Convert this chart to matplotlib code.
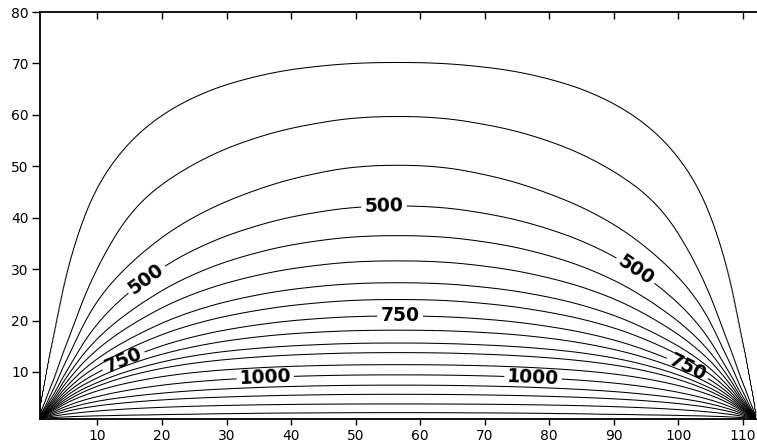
# contour chart: field between the two end points at x=1 and x=112
# heights of the contour lines were read off the reference picture
import numpy as np
import matplotlib.pyplot as plt

plt.rcParams["font.family"] = ["DejaVu Sans"]

# contour levels drawn
levels = [350, 400, 450, 500, 550, 600, 650, 700, 750, 800, 850, 900, 950, 1000, 1050, 1100, 1150, 1200]
labelled = [500, 750, 1000]

# end points of the field and distance from the nearer end where heights were read
x_left, x_right = 1, 112
dist = [0, 1, 2.5, 5, 9, 15, 23, 33, 44, 55.5]

# height (y) of every contour line at those distances
h350 = [1.17, 8.5, 18.0, 32.5, 46.0, 56.0, 63.0, 67.5, 69.8, 70.5]
h400 = [1.16, 4.3, 9.0, 17.5, 30.0, 42.3, 49.8, 55.5, 58.8, 60.4]
h450 = [1.15, 3.3, 7.2, 14.0, 23.8, 32.0, 39.5, 45.2, 49.2, 51.0]
h500 = [1.14, 2.9, 6.0, 11.5, 19.3, 26.5, 33.2, 38.3, 41.5, 42.9]
h550 = [1.13, 2.6, 5.3, 10.2, 16.4, 22.5, 28.5, 33.1, 35.9, 37.0]
h600 = [1.12, 2.4, 4.8, 9.1, 14.3, 19.6, 24.8, 28.7, 31.1, 32.0]
h650 = [1.11, 2.25, 4.4, 8.1, 12.5, 17.0, 21.5, 24.9, 26.9, 27.7]
h700 = [1.10, 2.1, 4.0, 7.3, 11.1, 15.1, 19.0, 21.9, 23.7, 24.4]
h750 = [1.09, 2.0, 3.7, 6.6, 9.8, 13.2, 16.6, 19.1, 20.6, 21.1]
h800 = [1.08, 1.9, 3.4, 6.0, 8.8, 11.9, 14.7, 16.8, 17.9, 18.3]
h850 = [1.07, 1.8, 3.15, 5.4, 7.9, 10.6, 13.0, 14.6, 15.4, 15.8]
h900 = [1.06, 1.7, 2.9, 4.9, 7.2, 9.6, 11.6, 12.9, 13.6, 13.9]
h950 = [1.05, 1.6, 2.65, 4.4, 6.3, 8.2, 9.8, 10.8, 11.3, 11.5]
h1000 = [1.04, 1.45, 2.35, 3.7, 5.2, 6.7, 8.0, 8.85, 9.35, 9.5]
h1050 = [1.03, 1.35, 2.05, 3.1, 4.3, 5.35, 6.3, 6.95, 7.35, 7.5]
h1100 = [1.02, 1.25, 1.75, 2.55, 3.4, 4.2, 4.85, 5.3, 5.6, 5.7]
h1150 = [1.01, 1.15, 1.45, 1.9, 2.4, 2.9, 3.3, 3.6, 3.75, 3.8]
h1200 = [1.00, 1.05, 1.15, 1.3, 1.45, 1.6, 1.75, 1.95, 2.05, 2.1]

heights = np.array([h350, h400, h450, h500, h550, h600, h650, h700, h750,
                    h800, h850, h900, h950, h1000, h1050, h1100, h1150, h1200])

# rows on a fine log-distance axis, lightly smoothed to take the corners off
u_pts = np.log1p(dist)
u_f = np.linspace(0, u_pts[-1], 400)
k = 20
smooth = []
for row in heights:
    hf = np.interp(u_f, u_pts, row)
    left = 2 * hf[0] - hf[k:0:-1]          # odd reflection keeps the end point
    right = hf[-2:-k - 2:-1]               # even reflection at the middle
    padded = np.concatenate((left, hf, right))
    smooth.append(np.convolve(padded, np.ones(2 * k + 1) / (2 * k + 1), mode="valid"))
smooth = np.array(smooth)

# build a grid of values so matplotlib can trace the lines
xs = np.linspace(x_left, x_right, 700)
ys = np.linspace(0.85, 80, 600)
Z = np.zeros((len(ys), len(xs)))
for j, xv in enumerate(xs):
    u = np.log1p(min(xv - x_left, x_right - xv))
    hs = np.array([np.interp(u, u_f, row) for row in smooth])
    hs = hs[::-1] + np.arange(len(hs)) * 1e-4
    yp = np.concatenate(([0.85], np.maximum.accumulate(hs), [80]))
    vp = np.concatenate(([1250], levels[::-1], [300]))
    Z[:, j] = np.interp(ys, yp, vp)

fig = plt.figure(figsize=(7.57, 4.45), dpi=100)
ax = fig.add_axes([40 / 757, 26 / 445, 717 / 757, 407 / 445])

plain = [lv for lv in levels if lv not in labelled]
ax.contour(xs, ys, Z, levels=plain, colors="black", linewidths=0.75)
cs = ax.contour(xs, ys, Z, levels=labelled, colors="black", linewidths=0.75)
label_pos = [(17.5, 28.2), (54.4, 42.9), (93.8, 30.5),
             (14.1, 12.0), (56.9, 21.1), (101.5, 11.0),
             (36, 8.9), (77.5, 8.9)]
lab = ax.clabel(cs, manual=label_pos, fmt="%d", fontsize=13.5,
                inline=True, inline_spacing=5)
for t in lab:
    t.set_fontweight("bold")

ax.set_xlim(1.1, 112.2)
ax.set_ylim(0.85, 80)
ax.set_xticks(range(10, 111, 10))
ax.set_yticks(range(10, 81, 10))
ax.tick_params(axis="both", labelsize=10, width=1, direction="out", colors="black")
ax.tick_params(axis="x", top=True, length=4, pad=3)
ax.tick_params(axis="y", length=6, pad=2)
# top ticks point inwards, bottom ones outwards
for tk in ax.xaxis.get_major_ticks():
    tk.tick2line.set_marker(3)
    tk.tick2line.set_markersize(5)
for s in ["left", "bottom", "top"]:
    ax.spines[s].set_linewidth(1.3)
ax.spines["right"].set_visible(False)

fig.savefig("out.png", dpi=100)
